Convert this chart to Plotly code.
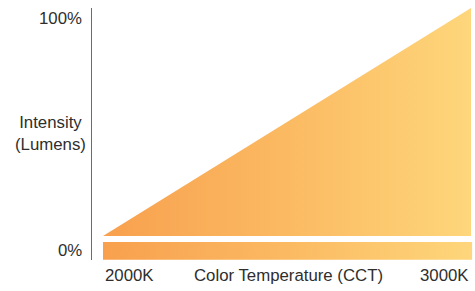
import plotly.graph_objects as go

# Data
cct = [2000, 3000]            # color temperature (K)
intensity = [0, 100]          # relative lumens (%)
x_tick_labels = ["2000K", "3000K"]
y_tick_labels = ["0%", "100%"]
x_title = "Color Temperature (CCT)"
y_title = "Intensity<br>(Lumens)"

grad = [[0, "#F8A04E"], [0.5, "#FBBA62"], [1, "#FED67B"]]

fig = go.Figure()

# Ramp triangle
fig.add_trace(go.Scatter(
    x=[cct[0], cct[1], cct[1], cct[0]],
    y=[intensity[0], intensity[1], intensity[0], intensity[0]],
    mode="lines", line=dict(width=0), fill="toself",
    fillgradient=dict(type="horizontal", colorscale=grad),
    hoverinfo="skip", showlegend=False))

# Color band under the ramp
band_top, band_bot = -2.6, -10.4
band_right = cct[1] + 3
fig.add_trace(go.Scatter(
    x=[cct[0], band_right, band_right, cct[0], cct[0]],
    y=[band_top, band_top, band_bot, band_bot, band_top],
    mode="lines", line=dict(width=0), fill="toself",
    fillgradient=dict(type="horizontal", colorscale=grad),
    hoverinfo="skip", showlegend=False))

x0 = cct[0] - 11 / 0.368
x1 = cct[1] + 4 / 0.368
fig.update_xaxes(range=[x0, x1], showgrid=False, zeroline=False,
                 showticklabels=False, showline=False, fixedrange=True)
fig.update_yaxes(range=[-10.5, 100], showgrid=False, zeroline=False,
                 showticklabels=False, showline=True, linecolor="#6b6b6b",
                 linewidth=1.5, fixedrange=True)

font = dict(family="Liberation Sans, Arial, Helvetica, sans-serif", size=16.8, color="#2e2e2e")
ann = []
ann.append(dict(x=x0, y=intensity[1], xref="x", yref="y", text=y_tick_labels[1],
                xanchor="right", yanchor="middle", xshift=-8, yshift=-10,
                showarrow=False, font=font))
ann.append(dict(x=x0, y=(band_top + band_bot) / 2, xref="x", yref="y", text=y_tick_labels[0],
                xanchor="right", yanchor="middle", xshift=-8, yshift=0,
                showarrow=False, font=font))
ann.append(dict(x=x0, y=50, xref="x", yref="y", text=y_title,
                xanchor="center", yanchor="middle", xshift=-42, yshift=-11,
                showarrow=False, font=font, align="center"))
ann.append(dict(x=cct[0], y=0, xref="x", yref="paper", text=x_tick_labels[0],
                xanchor="left", yanchor="middle", yshift=-15,
                showarrow=False, font=font))
ann.append(dict(x=cct[1], y=0, xref="x", yref="paper", text=x_tick_labels[1],
                xanchor="right", yanchor="middle", yshift=-15,
                showarrow=False, font=font))
ann.append(dict(x=(cct[0] + cct[1]) / 2, y=0, xref="x", yref="paper", text=x_title,
                xanchor="center", yanchor="middle", yshift=-15, xshift=1,
                showarrow=False, font=font))

fig.update_layout(
    width=475, height=291,
    margin=dict(l=92, r=0, t=8, b=31),
    paper_bgcolor="white", plot_bgcolor="white",
    annotations=ann,
)

fig.write_html("out.html", config={"displayModeBar": False, "staticPlot": True},
               post_script="document.body.style.margin='0px';document.body.style.overflow='hidden';")
